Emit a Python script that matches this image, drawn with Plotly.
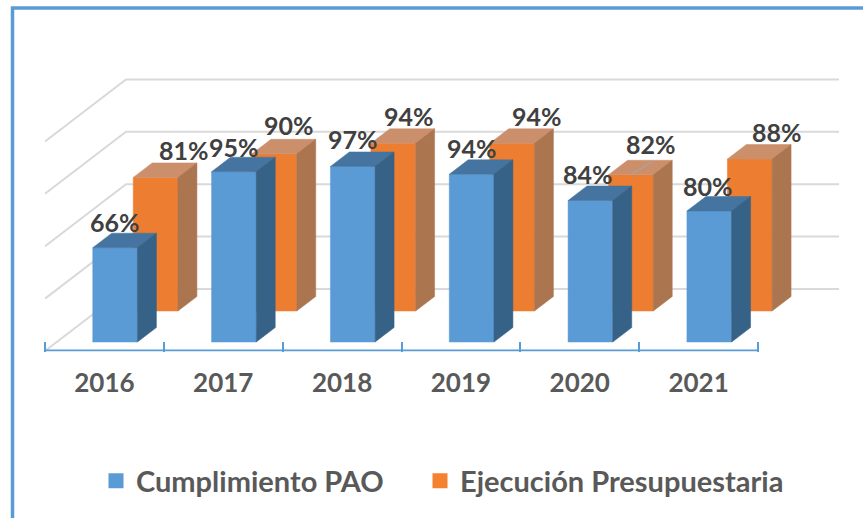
import plotly.graph_objects as go

# ---- data ----
years = ["2016", "2017", "2018", "2019", "2020", "2021"]
cumplimiento_pao = [66, 95, 97, 94, 84, 80]
ejecucion_presupuestaria = [81, 90, 94, 94, 82, 88]
grid_values = [30, 50, 70, 90, 110]

# ---- manual label nudges (pixels) ----
pao_label_dx = [0, 0, 0, 0, -2, -1]
pao_label_dy = [26, 25, 27, 26, 27, 25]
eje_label_dx = [28, 15, 16, 25, 20, 27]
eje_label_dy = [27, 29, 27, 27, 31, 27]

# ---- geometry ----
W, H = 863, 518
PX_X0, PX_X1 = 45, 758         # category axis extent
PX_BOTTOM = 351.5              # bottom of the plot area
PX_AXIS = 350.5                # axis line height
UNIT_X = (PX_X1 - PX_X0) / 6   # px per category
UNIT_Y = 2.62                  # px per percentage point
MIN_V = 30
DEPTH_PX_X, DEPTH_PX_Y = 81, 62
BAR_LEFT = -0.197
BAR_W = 44.7 / UNIT_X
BAR_DEPTH = 0.234
PAO_D = 0.145
EJE_D = 0.645

K_X = DEPTH_PX_X / UNIT_X
K_Y = DEPTH_PX_Y / UNIT_Y


def project(x, v, d):
    return x + d * K_X, v + d * K_Y


def face(points, color):
    xs, ys = [], []
    for x, v, d in points + points[:1]:
        px, py = project(x, v, d)
        xs.append(px)
        ys.append(py)
    return go.Scatter(x=xs, y=ys, mode="lines", fill="toself", fillcolor=color,
                      line=dict(width=0.5, color=color), showlegend=False,
                      hoverinfo="skip")


def bar_traces(i, v, d0, front, top, side):
    l, r = i + BAR_LEFT, i + BAR_LEFT + BAR_W
    d1 = d0 + BAR_DEPTH
    return [
        face([(l, MIN_V, d0), (r, MIN_V, d0), (r, v, d0), (l, v, d0)], front),
        face([(l, v, d0), (r, v, d0), (r, v, d1), (l, v, d1)], top),
        face([(r, MIN_V, d0), (r, MIN_V, d1), (r, v, d1), (r, v, d0)], side),
    ]


fig = go.Figure()

# gridlines: side wall then back wall
for g in grid_values:
    pts = [project(-0.5, g, 0), project(-0.5, g, 1), project(5.5, g, 1)]
    fig.add_trace(go.Scatter(x=[p[0] for p in pts], y=[p[1] for p in pts], mode="lines",
                             line=dict(color="#D9D9D9", width=2), showlegend=False,
                             hoverinfo="skip"))

# category axis line (stops at the last category, while the back wall runs on)
axis_v = MIN_V + (351 - PX_AXIS) / UNIT_Y
fig.add_trace(go.Scatter(x=[-0.5, 5.5], y=[axis_v, axis_v], mode="lines",
                         line=dict(color="#5B9BD5", width=2), showlegend=False,
                         hoverinfo="skip"))

for i, v in enumerate(ejecucion_presupuestaria):
    for t in bar_traces(i, v, EJE_D, "#ED7D31", "#CB8F6B", "#AB7550"):
        fig.add_trace(t)

# leader line of the 2020 orange label
lx, ly = project(4 + BAR_LEFT + BAR_W * 0.5, ejecucion_presupuestaria[4], EJE_D)
fig.add_trace(go.Scatter(x=[lx, lx + 21 / UNIT_X], y=[ly, ly + 13 / UNIT_Y], mode="lines",
                         line=dict(color="#A6A6A6", width=1.2), showlegend=False,
                         hoverinfo="skip"))

for i, v in enumerate(cumplimiento_pao):
    for t in bar_traces(i, v, PAO_D, "#5B9BD5", "#44749F", "#376287"):
        fig.add_trace(t)

# legend entries
fig.add_trace(go.Scatter(x=[None], y=[None], mode="markers", name="Cumplimiento PAO",
                         legend="legend",
                         marker=dict(symbol="square", size=15, color="#5B9BD5")))
fig.add_trace(go.Scatter(x=[None], y=[None], mode="markers", name="Ejecución Presupuestaria",
                         legend="legend2",
                         marker=dict(symbol="square", size=15, color="#F58231")))

# data labels
FONT = "Lato"
annotations = []
for series, d0, dxs, dys in [
    (ejecucion_presupuestaria, EJE_D, eje_label_dx, eje_label_dy),
    (cumplimiento_pao, PAO_D, pao_label_dx, pao_label_dy),
]:
    for i, v in enumerate(series):
        ax, ay = project(i + BAR_LEFT + BAR_W / 2, v, d0)
        annotations.append(dict(x=ax, y=ay, text=f"{v}%", showarrow=False,
                                xshift=dxs[i], yshift=dys[i],
                                font=dict(family=FONT, size=25, weight=700, color="#404040")))

y_low = MIN_V + (351 - PX_BOTTOM) / UNIT_Y
PX_TOP = 60
y_high = y_low + (PX_BOTTOM - PX_TOP) / UNIT_Y

legend_common = dict(
    orientation="h", y=(H - 481) / H, yanchor="middle", xanchor="left",
    font=dict(family=FONT, size=29, weight=700, color="#595959"),
    bgcolor="rgba(0,0,0,0)",
)

fig.update_layout(
    width=W, height=H,
    margin=dict(l=0, r=0, t=0, b=0),
    paper_bgcolor="white", plot_bgcolor="white",
    xaxis=dict(
        domain=[PX_X0 / W, (PX_X1 + DEPTH_PX_X) / W], range=[-0.5, 5.5 + K_X],
        tickmode="array", tickvals=list(range(6)), ticktext=years,
        ticks="", ticklabelstandoff=13,
        tickfont=dict(family=FONT, size=26, weight=700, color="#595959"),
        showgrid=False, zeroline=False, showline=False,
        minor=dict(tickmode="array", tickvals=[k - 0.5 for k in range(7)],
                   ticks="inside", ticklen=10, tickcolor="#5B9BD5", tickwidth=1.5, showgrid=False),
    ),
    yaxis=dict(
        domain=[(H - PX_BOTTOM) / H, (H - PX_TOP) / H], range=[y_low, y_high],
        visible=False,
    ),
    legend=dict(x=96 / W, **legend_common),
    legend2=dict(x=420 / W, **legend_common),
    annotations=annotations,
    shapes=[dict(type="path", xref="paper", yref="paper",
                 path=f"M {12.5 / W},0 L {12.5 / W},{(H - 8) / H} L 1.01,{(H - 8) / H}",
                 line=dict(color="#5B9BD5", width=3.5))],
)

fig.write_html("out.html", config={"displayModeBar": False},
               post_script="document.body.style.margin='0';")
